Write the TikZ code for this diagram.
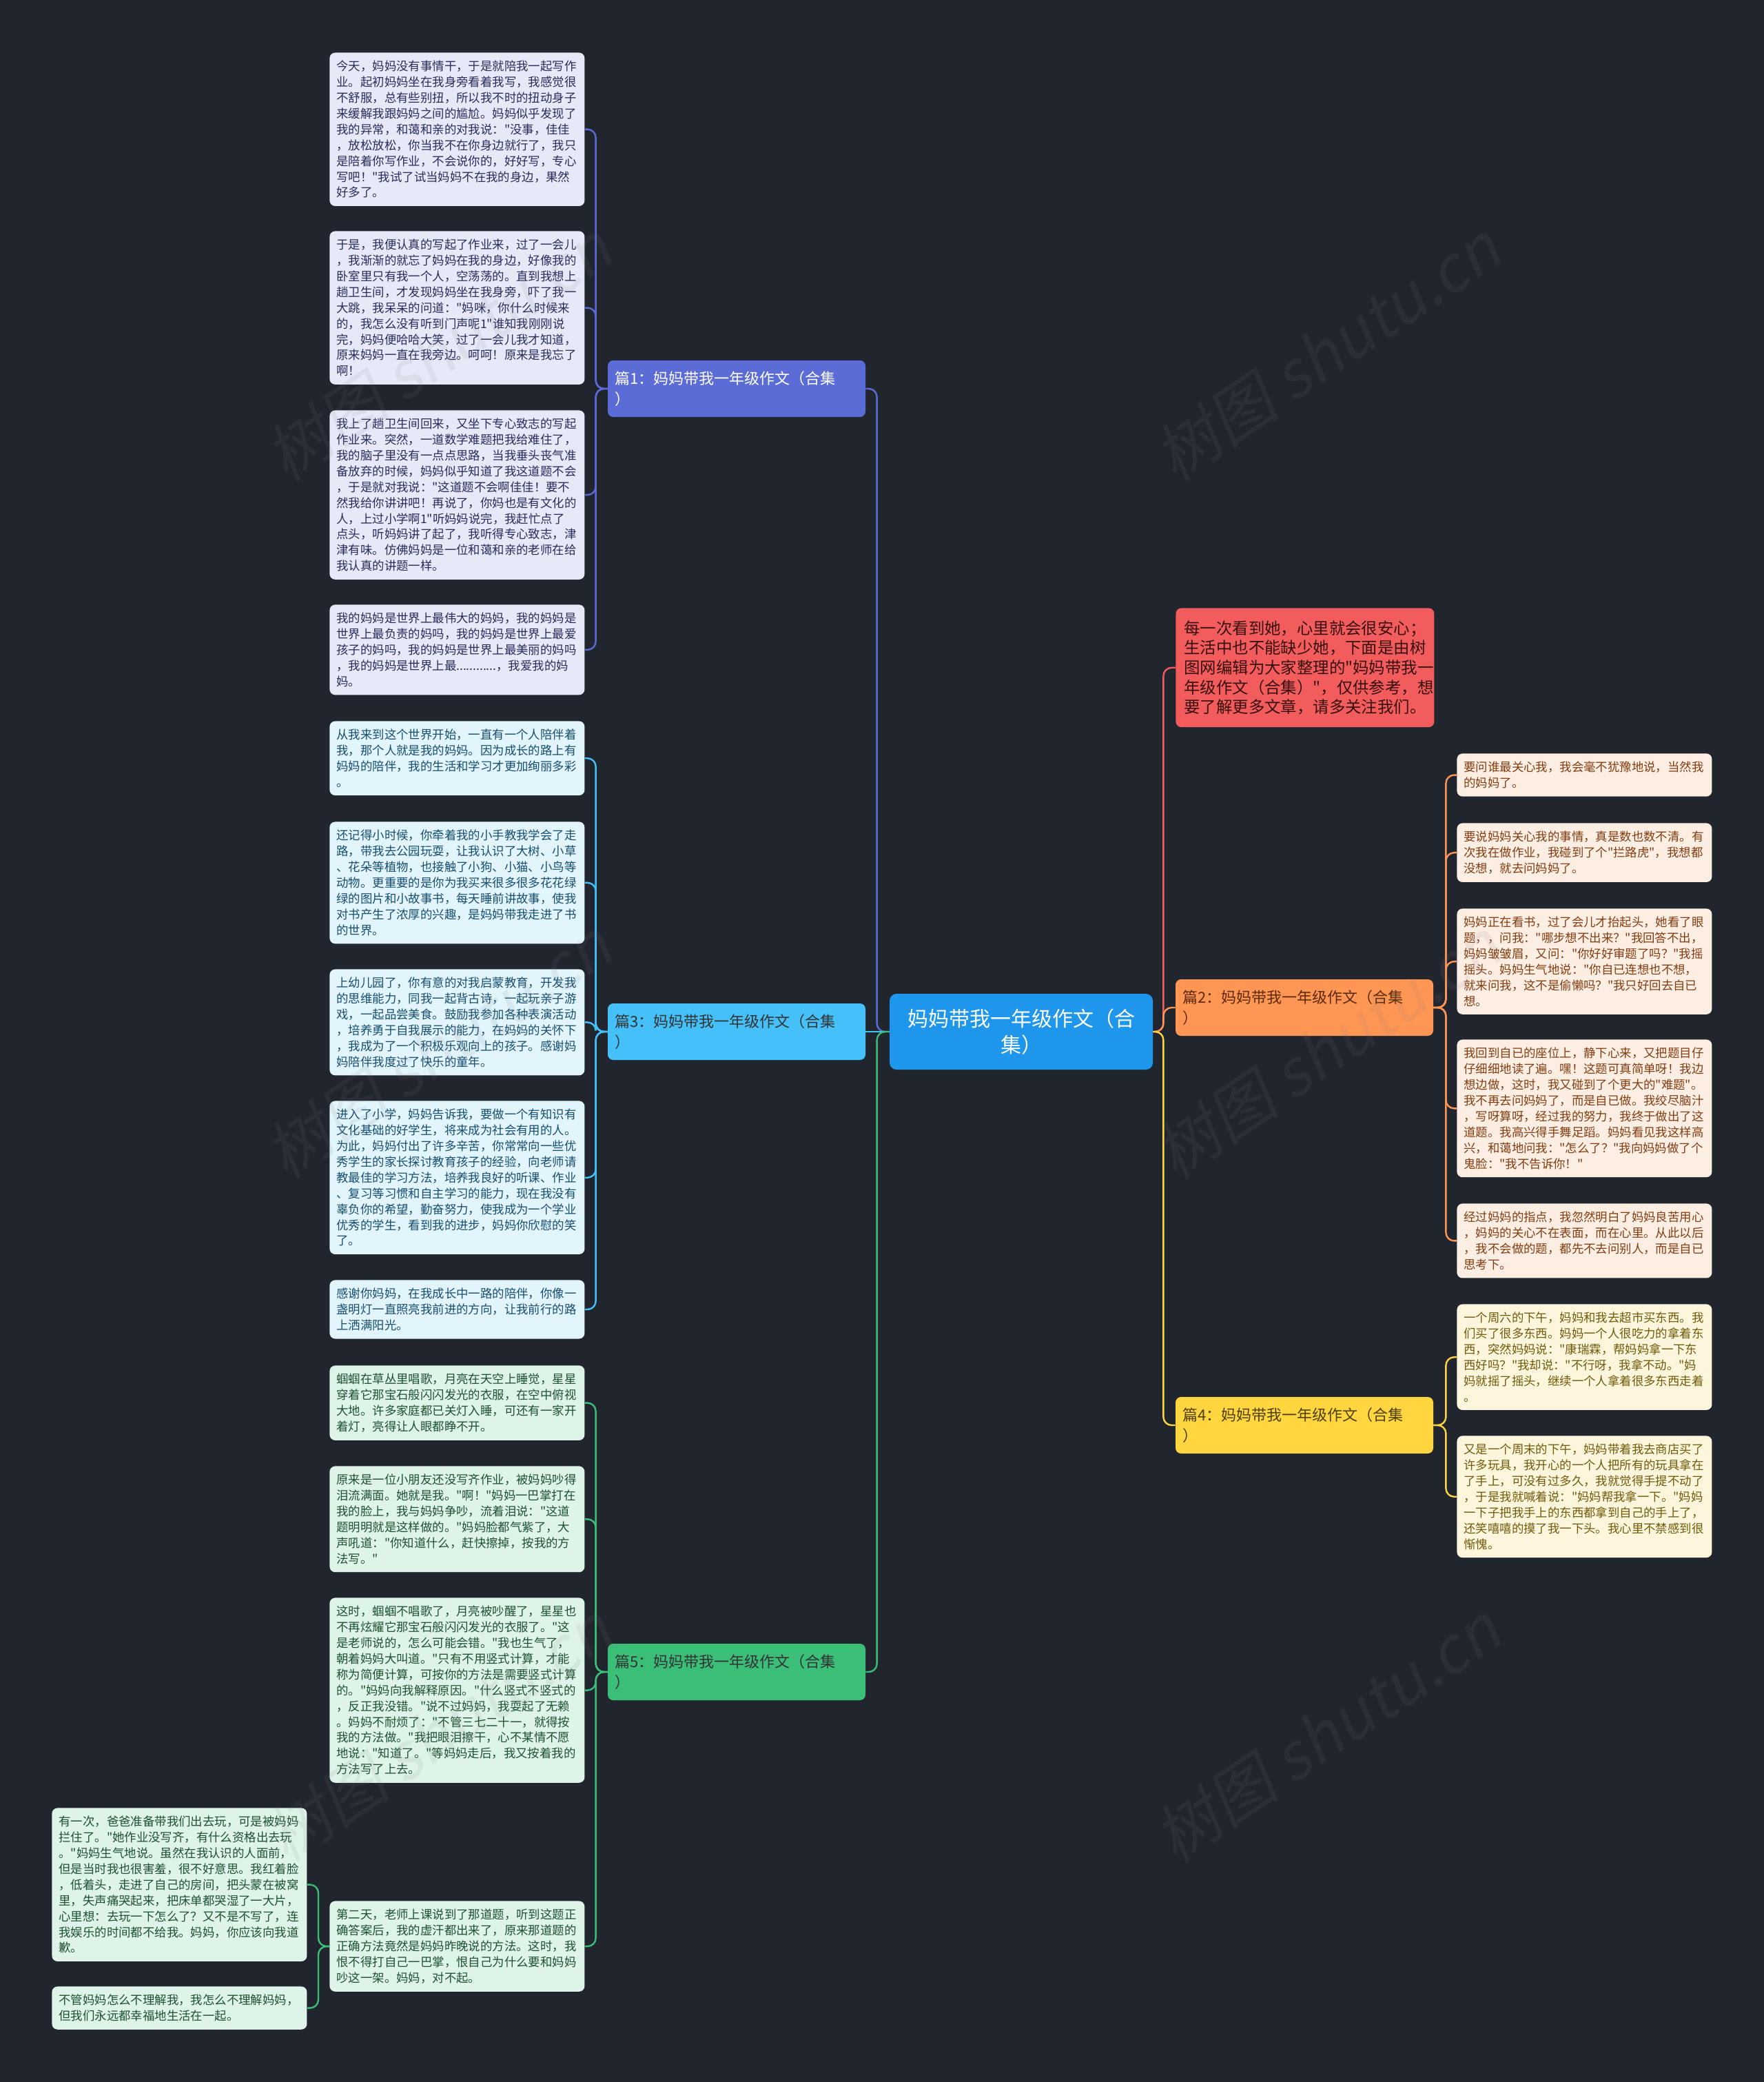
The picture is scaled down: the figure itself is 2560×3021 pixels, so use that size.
\documentclass[tikz,border=0pt]{standalone}
\usepackage{fontspec}
\setmainfont{Noto Sans CJK SC}
\newfontfamily\cjk{Noto Sans CJK SC}
\newfontfamily\stampfont[FakeSlant=0.2]{Noto Sans CJK SC}
\usetikzlibrary{positioning}
\definecolor{mapBg}{RGB}{33,37,46}
\definecolor{rootBlue}{RGB}{30,150,235}
\definecolor{introRed}{RGB}{242,92,92}
\definecolor{introText}{RGB}{55,15,15}
\definecolor{oneIndigo}{RGB}{91,108,214}
\definecolor{oneLeaf}{RGB}{231,233,248}
\definecolor{oneText}{RGB}{40,44,90}
\definecolor{twoOrange}{RGB}{255,150,84}
\definecolor{twoLeaf}{RGB}{253,238,228}
\definecolor{twoText}{RGB}{130,60,15}
\definecolor{threeSky}{RGB}{69,192,248}
\definecolor{threeLeaf}{RGB}{226,244,252}
\definecolor{threeText}{RGB}{22,78,110}
\definecolor{fourYellow}{RGB}{255,214,64}
\definecolor{fourLeaf}{RGB}{253,246,220}
\definecolor{fourText}{RGB}{110,90,10}
\definecolor{fiveGreen}{RGB}{58,190,120}
\definecolor{fiveLeaf}{RGB}{222,244,232}
\definecolor{fiveText}{RGB}{30,80,50}

\begin{document}
\begin{tikzpicture}[x=0.5pt, y=-0.5pt,
leaf/.style={rectangle, rounded corners=4pt, anchor=north west,
text width=175pt, inner xsep=5pt, inner ysep=5.8pt,
align=left, font=\cjk\fontsize{8.7}{11.45}\selectfont},
topic/.style={rectangle, rounded corners=4pt, text width=177pt,
inner xsep=5pt, minimum height=41pt, align=left,
font=\cjk\fontsize{11}{15}\selectfont},
link/.style={line width=1.2pt, rounded corners=6pt},
stamp/.style={text=gray, text opacity=0.11, rotate=34,
font=\stampfont\fontsize{46}{46}\selectfont}]
\useasboundingbox (0,0) rectangle (2560,3021);
\fill[mapBg] (0,0) rectangle (2560,3021);

% centre and topics
\node[rectangle, rounded corners=5pt, fill=rootBlue, text=white,
minimum width=191pt, minimum height=55pt, align=center,
font=\cjk\fontsize{15}{19}\selectfont] (root) at (1482,1497)
    {妈妈带我一年级作文（合\\集）};
\node[topic, fill=oneIndigo, text=white] (one) at (1069,564)
    {篇1：妈妈带我一年级作文（合集\\）};
\node[topic, fill=threeSky, text=black!80] (three) at (1069,1497)
    {篇3：妈妈带我一年级作文（合集\\）};
\node[topic, fill=fiveGreen, text=black!80] (five) at (1069,2426)
    {篇5：妈妈带我一年级作文（合集\\）};
\node[topic, fill=twoOrange, text=twoText!70!black] (two) at (1893,1462)
    {篇2：妈妈带我一年级作文（合集\\）};
\node[topic, fill=fourYellow, text=fourText!70!black] (four) at (1893,2068)
    {篇4：妈妈带我一年级作文（合集\\）};
\node[rectangle, rounded corners=4pt, anchor=north west, fill=introRed,
text=introText, text width=175.5pt, inner xsep=6pt, inner ysep=9pt,
align=left, font=\cjk\fontsize{11.7}{14.3}\selectfont] (intro) at (1706,882)
    {每一次看到她，心里就会很安心；\\生活中也不能缺少她，下面是由树\\图网编辑为大家整理的"妈妈带我一\\年级作文（合集）"，仅供参考，想\\要了解更多文章，请多关注我们。};

% 篇1
\node[leaf, fill=oneLeaf, text=oneText] (oneA) at (478,76)
    {今天，妈妈没有事情干，于是就陪我一起写作\\业。起初妈妈坐在我身旁看着我写，我感觉很\\不舒服，总有些别扭，所以我不时的扭动身子\\来缓解我跟妈妈之间的尴尬。妈妈似乎发现了\\我的异常，和蔼和亲的对我说："没事，佳佳\\，放松放松，你当我不在你身边就行了，我只\\是陪着你写作业，不会说你的，好好写，专心\\写吧！"我试了试当妈妈不在我的身边，果然\\好多了。};
\node[leaf, fill=oneLeaf, text=oneText] (oneB) at (478,335)
    {于是，我便认真的写起了作业来，过了一会儿\\，我渐渐的就忘了妈妈在我的身边，好像我的\\卧室里只有我一个人，空荡荡的。直到我想上\\趟卫生间，才发现妈妈坐在我身旁，吓了我一\\大跳，我呆呆的问道："妈咪，你什么时候来\\的，我怎么没有听到门声呢1"谁知我刚刚说\\完，妈妈便哈哈大笑，过了一会儿我才知道，\\原来妈妈一直在我旁边。呵呵！原来是我忘了\\啊！};
\node[leaf, fill=oneLeaf, text=oneText] (oneC) at (478,595)
    {我上了趟卫生间回来，又坐下专心致志的写起\\作业来。突然，一道数学难题把我给难住了，\\我的脑子里没有一点点思路，当我垂头丧气准\\备放弃的时候，妈妈似乎知道了我这道题不会\\，于是就对我说："这道题不会啊佳佳！要不\\然我给你讲讲吧！再说了，你妈也是有文化的\\人，上过小学啊1"听妈妈说完，我赶忙点了\\点头，听妈妈讲了起了，我听得专心致志，津\\津有味。仿佛妈妈是一位和蔼和亲的老师在给\\我认真的讲题一样。};
\node[leaf, fill=oneLeaf, text=oneText] (oneD) at (478,877)
    {我的妈妈是世界上最伟大的妈妈，我的妈妈是\\世界上最负责的妈吗，我的妈妈是世界上最爱\\孩子的妈吗，我的妈妈是世界上最美丽的妈吗\\，我的妈妈是世界上最............，我爱我的妈\\妈。};

% 篇3
\node[leaf, fill=threeLeaf, text=threeText] (threeA) at (478,1046)
    {从我来到这个世界开始，一直有一个人陪伴着\\我，那个人就是我的妈妈。因为成长的路上有\\妈妈的陪伴，我的生活和学习才更加绚丽多彩\\。};
\node[leaf, fill=threeLeaf, text=threeText] (threeB) at (478,1192)
    {还记得小时候，你牵着我的小手教我学会了走\\路，带我去公园玩耍，让我认识了大树、小草\\、花朵等植物，也接触了小狗、小猫、小鸟等\\动物。更重要的是你为我买来很多很多花花绿\\绿的图片和小故事书，每天睡前讲故事，使我\\对书产生了浓厚的兴趣，是妈妈带我走进了书\\的世界。};
\node[leaf, fill=threeLeaf, text=threeText] (threeC) at (478,1406)
    {上幼儿园了，你有意的对我启蒙教育，开发我\\的思维能力，同我一起背古诗，一起玩亲子游\\戏，一起品尝美食。鼓励我参加各种表演活动\\，培养勇于自我展示的能力，在妈妈的关怀下\\，我成为了一个积极乐观向上的孩子。感谢妈\\妈陪伴我度过了快乐的童年。};
\node[leaf, fill=threeLeaf, text=threeText] (threeD) at (478,1597)
    {进入了小学，妈妈告诉我，要做一个有知识有\\文化基础的好学生，将来成为社会有用的人。\\为此，妈妈付出了许多辛苦，你常常向一些优\\秀学生的家长探讨教育孩子的经验，向老师请\\教最佳的学习方法，培养我良好的听课、作业\\、复习等习惯和自主学习的能力，现在我没有\\辜负你的希望，勤奋努力，使我成为一个学业\\优秀的学生，看到我的进步，妈妈你欣慰的笑\\了。};
\node[leaf, fill=threeLeaf, text=threeText] (threeE) at (478,1857)
    {感谢你妈妈，在我成长中一路的陪伴，你像一\\盏明灯一直照亮我前进的方向，让我前行的路\\上洒满阳光。};

% 篇5
\node[leaf, fill=fiveLeaf, text=fiveText] (fiveA) at (478,1981)
    {蝈蝈在草丛里唱歌，月亮在天空上睡觉，星星\\穿着它那宝石般闪闪发光的衣服，在空中俯视\\大地。许多家庭都已关灯入睡，可还有一家开\\着灯，亮得让人眼都睁不开。};
\node[leaf, fill=fiveLeaf, text=fiveText] (fiveB) at (478,2127)
    {原来是一位小朋友还没写齐作业，被妈妈吵得\\泪流满面。她就是我。"啊！"妈妈一巴掌打在\\我的脸上，我与妈妈争吵，流着泪说："这道\\题明明就是这样做的。"妈妈脸都气紫了，大\\声吼道："你知道什么，赶快擦掉，按我的方\\法写。"};
\node[leaf, fill=fiveLeaf, text=fiveText] (fiveC) at (478,2318)
    {这时，蝈蝈不唱歌了，月亮被吵醒了，星星也\\不再炫耀它那宝石般闪闪发光的衣服了。"这\\是老师说的，怎么可能会错。"我也生气了，\\朝着妈妈大叫道。"只有不用竖式计算，才能\\称为简便计算，可按你的方法是需要竖式计算\\的。"妈妈向我解释原因。"什么竖式不竖式的\\，反正我没错。"说不过妈妈，我耍起了无赖\\。妈妈不耐烦了："不管三七二十一，就得按\\我的方法做。"我把眼泪擦干，心不某情不愿\\地说："知道了。"等妈妈走后，我又按着我的\\方法写了上去。};
\node[leaf, fill=fiveLeaf, text=fiveText] (fiveD) at (478,2758)
    {第二天，老师上课说到了那道题，听到这题正\\确答案后，我的虚汗都出来了，原来那道题的\\正确方法竟然是妈妈昨晚说的方法。这时，我\\恨不得打自己一巴掌，恨自己为什么要和妈妈\\吵这一架。妈妈，对不起。};
\node[leaf, fill=fiveLeaf, text=fiveText] (fiveE) at (75,2623)
    {有一次，爸爸准备带我们出去玩，可是被妈妈\\拦住了。"她作业没写齐，有什么资格出去玩\\。"妈妈生气地说。虽然在我认识的人面前，\\但是当时我也很害羞，很不好意思。我红着脸\\，低着头，走进了自己的房间，把头蒙在被窝\\里，失声痛哭起来，把床单都哭湿了一大片，\\心里想：去玩一下怎么了？又不是不写了，连\\我娱乐的时间都不给我。妈妈，你应该向我道\\歉。};
\node[leaf, fill=fiveLeaf, text=fiveText] (fiveF) at (75,2882)
    {不管妈妈怎么不理解我，我怎么不理解妈妈，\\但我们永远都幸福地生活在一起。};

% 篇2
\node[leaf, fill=twoLeaf, text=twoText] (twoA) at (2114,1093)
    {要问谁最关心我，我会毫不犹豫地说，当然我\\的妈妈了。};
\node[leaf, fill=twoLeaf, text=twoText] (twoB) at (2114,1194)
    {要说妈妈关心我的事情，真是数也数不清。有\\次我在做作业，我碰到了个"拦路虎"，我想都\\没想，就去问妈妈了。};
\node[leaf, fill=twoLeaf, text=twoText] (twoC) at (2114,1318)
    {妈妈正在看书，过了会儿才抬起头，她看了眼\\题，，问我："哪步想不出来？"我回答不出，\\妈妈皱皱眉，又问："你好好审题了吗？"我摇\\摇头。妈妈生气地说："你自已连想也不想，\\就来问我，这不是偷懒吗？"我只好回去自已\\想。};
\node[leaf, fill=twoLeaf, text=twoText] (twoD) at (2114,1508)
    {我回到自已的座位上，静下心来，又把题目仔\\仔细细地读了遍。嘿！这题可真简单呀！我边\\想边做，这时，我又碰到了个更大的"难题"。\\我不再去问妈妈了，而是自已做。我绞尽脑汁\\，写呀算呀，经过我的努力，我终于做出了这\\道题。我高兴得手舞足蹈。妈妈看见我这样高\\兴，和蔼地问我："怎么了？"我向妈妈做了个\\鬼脸："我不告诉你！"};
\node[leaf, fill=twoLeaf, text=twoText] (twoE) at (2114,1746)
    {经过妈妈的指点，我忽然明白了妈妈良苦用心\\，妈妈的关心不在表面，而在心里。从此以后\\，我不会做的题，都先不去问别人，而是自已\\思考下。};

% 篇4
\node[leaf, fill=fourLeaf, text=fourText] (fourA) at (2114,1892)
    {一个周六的下午，妈妈和我去超市买东西。我\\们买了很多东西。妈妈一个人很吃力的拿着东\\西，突然妈妈说："康瑞霖，帮妈妈拿一下东\\西好吗？"我却说："不行呀，我拿不动。"妈\\妈就摇了摇头，继续一个人拿着很多东西走着\\。};
\node[leaf, fill=fourLeaf, text=fourText] (fourB) at (2114,2083)
    {又是一个周末的下午，妈妈带着我去商店买了\\许多玩具，我开心的一个人把所有的玩具拿在\\了手上，可没有过多久，我就觉得手提不动了\\，于是我就喊着说："妈妈帮我拿一下。"妈妈\\一下子把我手上的东西都拿到自己的手上了，\\还笑嘻嘻的摸了我一下头。我心里不禁感到很\\惭愧。};

% connectors
\draw[link, oneIndigo]   (root.west) -- ++(-18,0) |- (one.east);
\draw[link, threeSky]    (root.west) -- (three.east);
\draw[link, fiveGreen]   (root.west) -- ++(-18,0) |- (five.east);
\draw[link, introRed]    (root.east) -- ++(15,0) |- (intro.west);
\draw[link, twoOrange]   (root.east) -- ++(15,0) |- (two.west);
\draw[link, fourYellow]  (root.east) -- ++(15,0) |- (four.west);
\draw[link, oneIndigo]   (one.west) -- ++(-17,0) |- (oneA.east);
\draw[link, oneIndigo]   (one.west) -- ++(-17,0) |- (oneB.east);
\draw[link, oneIndigo]   (one.west) -- ++(-17,0) |- (oneC.east);
\draw[link, oneIndigo]   (one.west) -- ++(-17,0) |- (oneD.east);
\draw[link, threeSky]    (three.west) -- ++(-17,0) |- (threeA.east);
\draw[link, threeSky]    (three.west) -- ++(-17,0) |- (threeB.east);
\draw[link, threeSky]    (three.west) -- ++(-17,0) |- (threeC.east);
\draw[link, threeSky]    (three.west) -- ++(-17,0) |- (threeD.east);
\draw[link, threeSky]    (three.west) -- ++(-17,0) |- (threeE.east);
\draw[link, fiveGreen]   (five.west) -- ++(-17,0) |- (fiveA.east);
\draw[link, fiveGreen]   (five.west) -- ++(-17,0) |- (fiveB.east);
\draw[link, fiveGreen]   (five.west) -- ++(-17,0) |- (fiveC.east);
\draw[link, fiveGreen]   (five.west) -- ++(-17,0) |- (fiveD.east);
\draw[link, fiveGreen]   (fiveD.west) -- ++(-16,0) |- (fiveE.east);
\draw[link, fiveGreen]   (fiveD.west) -- ++(-16,0) |- (fiveF.east);
\draw[link, twoOrange]   (two.east) -- ++(18,0) |- (twoA.west);
\draw[link, twoOrange]   (two.east) -- ++(18,0) |- (twoB.west);
\draw[link, twoOrange]   (two.east) -- ++(18,0) |- (twoC.west);
\draw[link, twoOrange]   (two.east) -- ++(18,0) |- (twoD.west);
\draw[link, twoOrange]   (two.east) -- ++(18,0) |- (twoE.west);
\draw[link, fourYellow]  (four.east) -- ++(18,0) |- (fourA.west);
\draw[link, fourYellow]  (four.east) -- ++(18,0) |- (fourB.west);

% watermark
\node[stamp] (wmA) at (636,510)   {树图 shutu.cn};
\node[stamp] (wmB) at (1926,510)  {树图 shutu.cn};
\node[stamp] (wmC) at (636,1522)  {树图 shutu.cn};
\node[stamp] (wmD) at (1926,1522) {树图 shutu.cn};
\node[stamp] (wmE) at (636,2514)  {树图 shutu.cn};
\node[stamp] (wmF) at (1926,2514) {树图 shutu.cn};
\end{tikzpicture}
\end{document}
